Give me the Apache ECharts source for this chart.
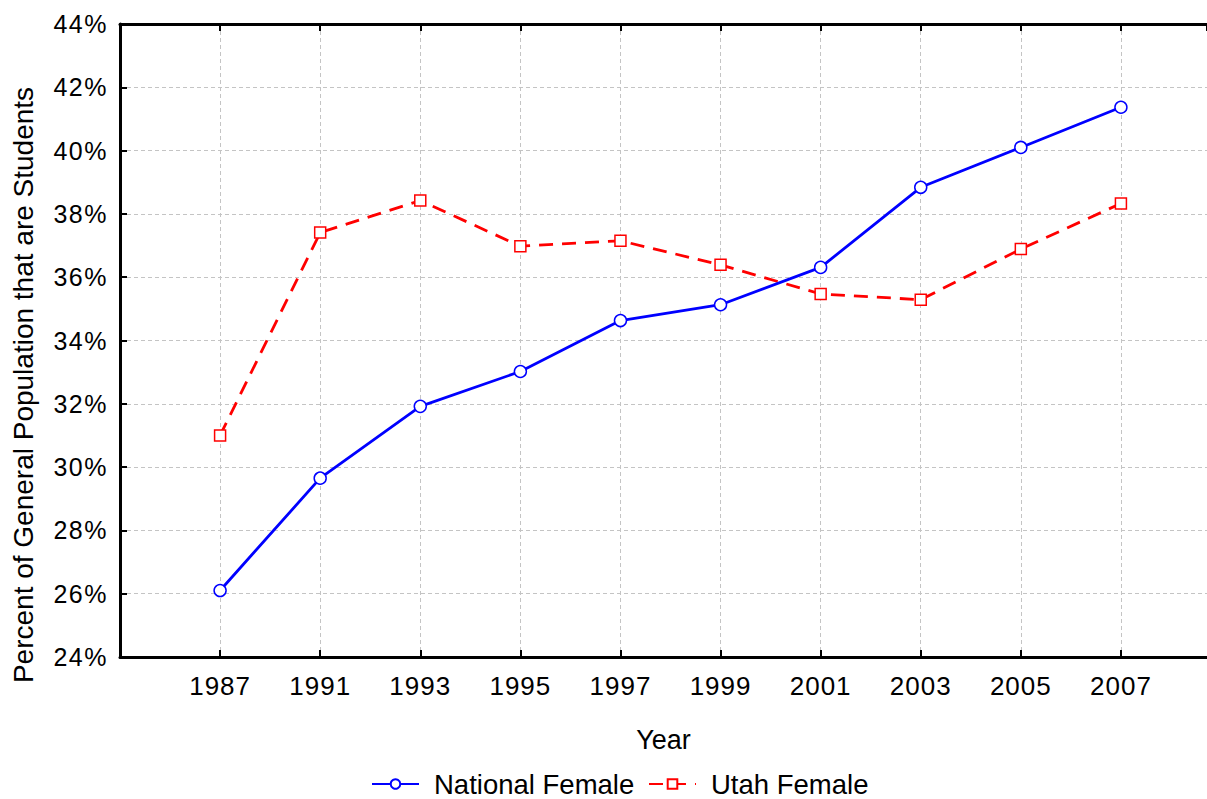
<!DOCTYPE html>
<html>
<head>
<meta charset="utf-8">
<script src="https://cdn.jsdelivr.net/npm/echarts@6/dist/echarts.min.js"></script>
<style>
html,body{margin:0;padding:0;background:#fff;}
#chart{width:1207px;height:799px;}
#chart text[style*="25px"]{letter-spacing:1.5px;}
#chart text[style*="26px"]{letter-spacing:1px;}
</style>
</head>
<body>
<div id="chart"></div>
<script>
const years = ['1987','1991','1993','1995','1997','1999','2001','2003','2005','2007'];
const nationalFemale = [26.1, 29.65, 31.92, 33.02, 34.63, 35.13, 36.31, 38.84, 40.1, 41.37];
const utahFemale = [31.0, 37.41, 38.42, 36.98, 37.15, 36.39, 35.47, 35.29, 36.89, 38.33];
const yTicks = [24, 26, 28, 30, 32, 34, 36, 38, 40, 42, 44];

const FONT = 'Liberation Sans, Arial, sans-serif';
const chart = echarts.init(document.getElementById('chart'), null, { renderer: 'svg' });

const xLabel = function (v) {
  const i = Math.round(v);
  if (Math.abs(v - i) > 1e-6) return '';
  return years[i] !== undefined ? years[i] : '';
};

const legendText = { fontSize: 27.5, fontFamily: FONT, color: '#000', padding: [0, 0, 0, 10] };

chart.setOption({
  animation: false,
  textStyle: { fontFamily: FONT, color: '#000' },
  grid: { left: 120, right: 0, top: 24, bottom: 142, containLabel: false },
  legend: [{
    top: 765,
    left: 366,
    itemWidth: 47,
    itemHeight: 12,
    textStyle: legendText,
    data: ['National Female']
  }, {
    top: 765,
    left: 643,
    itemWidth: 47,
    itemHeight: 12,
    textStyle: legendText,
    data: ['Utah Female']
  }],
  xAxis: [{
    type: 'value',
    position: 'bottom',
    min: -1,
    max: 9.86,
    interval: 1,
    name: 'Year',
    nameLocation: 'middle',
    nameGap: 69,
    nameTextStyle: { fontSize: 27, fontFamily: FONT, color: '#000' },
    axisLine: { onZero: false, lineStyle: { color: '#000', width: 3 } },
    axisTick: { inside: true, length: 7, lineStyle: { color: '#000', width: 2 } },
    axisLabel: { formatter: xLabel, fontSize: 26, fontFamily: FONT, color: '#000', margin: 16, showMaxLabel: false },
    splitLine: { show: true, lineStyle: { color: '#c4c4c4', type: [4, 3], width: 1 } }
  }, {
    type: 'value',
    position: 'top',
    min: -1,
    max: 9.86,
    interval: 1,
    axisLine: { onZero: false, lineStyle: { color: '#000', width: 3 } },
    axisTick: { inside: true, length: 7, lineStyle: { color: '#000', width: 2 } },
    axisLabel: { show: false },
    splitLine: { show: false }
  }],
  yAxis: {
    type: 'value',
    min: yTicks[0],
    max: yTicks[yTicks.length - 1],
    interval: 2,
    axisLine: { show: true, onZero: false, lineStyle: { color: '#000', width: 3 } },
    axisTick: { show: true, inside: true, length: 7, lineStyle: { color: '#000', width: 2 } },
    axisLabel: { formatter: '{value}%', fontSize: 25, fontFamily: FONT, color: '#000', margin: 12 },
    splitLine: { show: true, lineStyle: { color: '#c4c4c4', type: [4, 3], width: 1 } }
  },
  graphic: [{
    type: 'text',
    x: 23,
    y: 385,
    rotation: Math.PI / 2,
    style: {
      text: 'Percent of General Population that are Students',
      fontSize: 28,
      fontFamily: FONT,
      fill: '#000',
      align: 'center',
      verticalAlign: 'middle'
    }
  }],
  series: [{
    name: 'National Female',
    type: 'line',
    xAxisIndex: 0,
    data: nationalFemale.map((v, i) => [i, v]),
    symbol: 'circle',
    symbolSize: 12,
    lineStyle: { color: '#0000ff', width: 2.8 },
    itemStyle: { color: '#fff', borderColor: '#0000ff', borderWidth: 1.5 },
    z: 3
  }, {
    name: 'Utah Female',
    type: 'line',
    xAxisIndex: 0,
    data: utahFemale.map((v, i) => [i, v]),
    symbol: 'rect',
    symbolSize: 11,
    lineStyle: { color: '#ff0000', width: 2.8, type: [14, 9] },
    itemStyle: { color: '#fff', borderColor: '#ff0000', borderWidth: 1.5 },
    z: 2
  }]
});
</script>
</body>
</html>
